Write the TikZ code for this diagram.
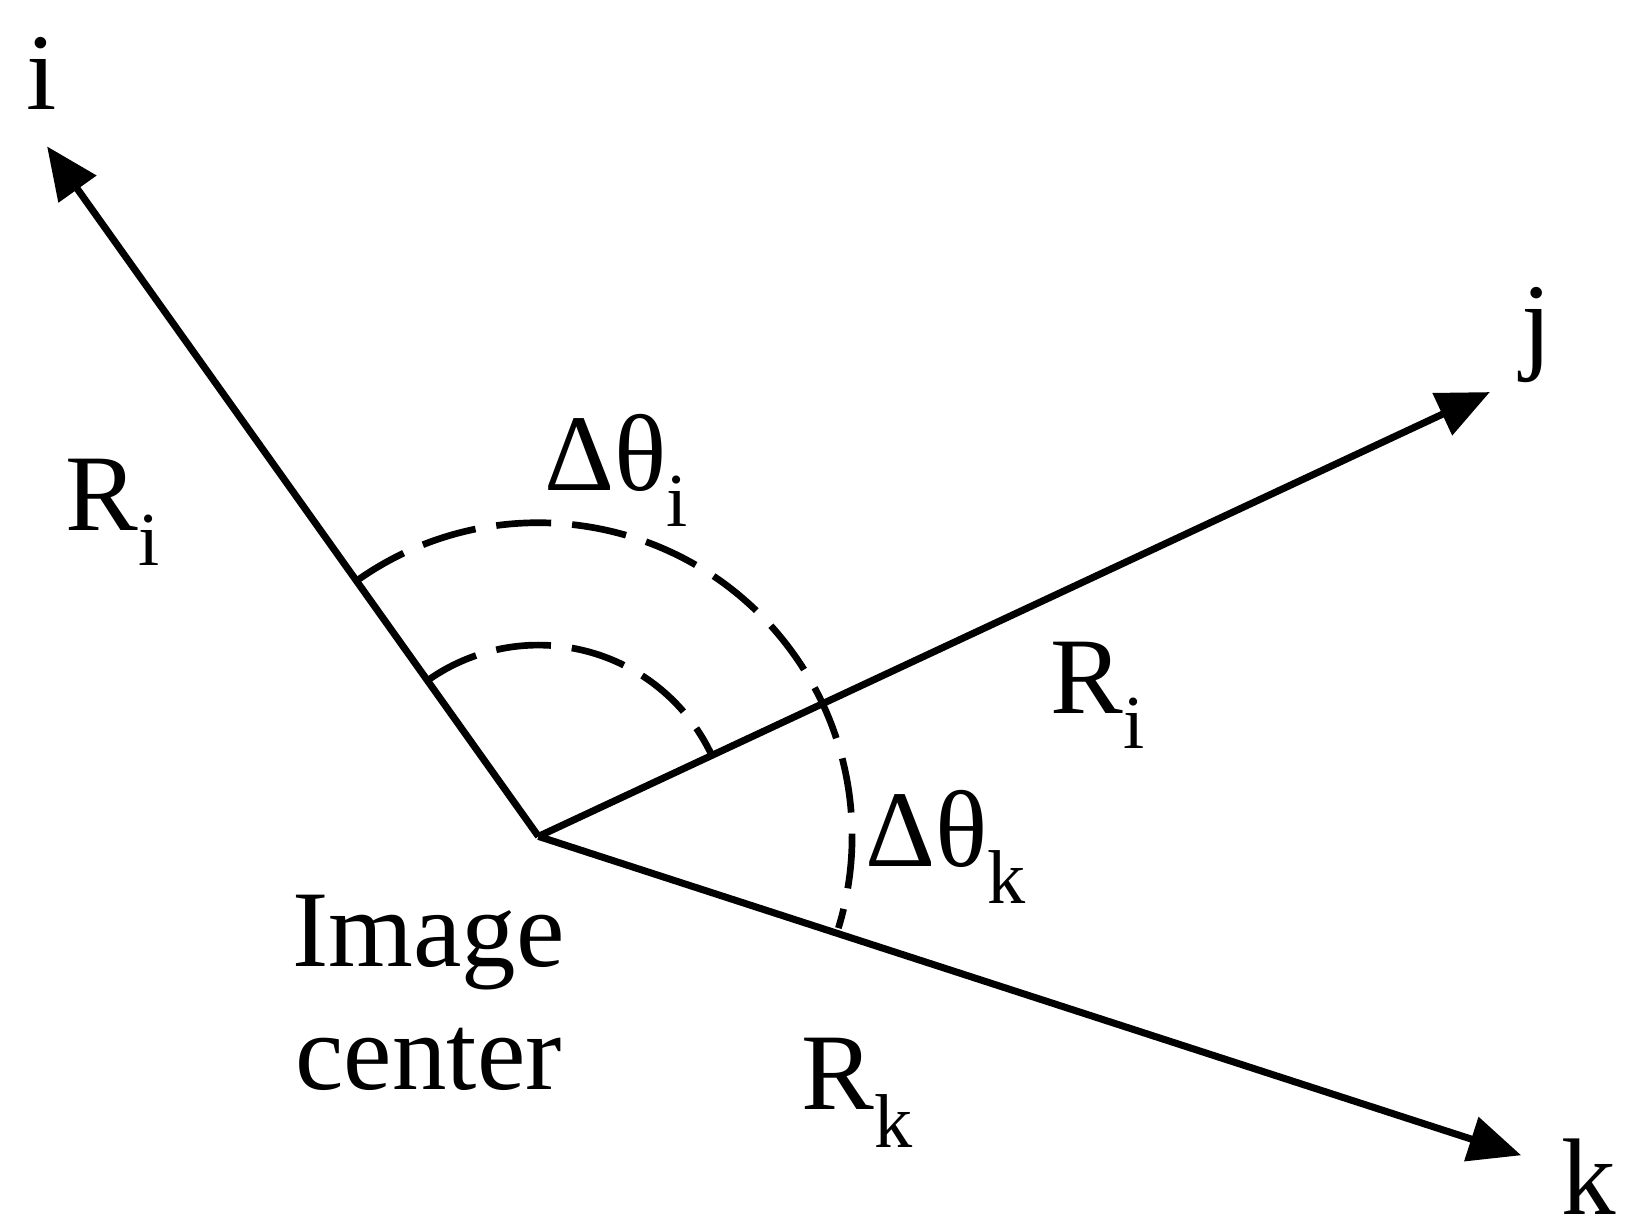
\documentclass[tikz,border=0pt]{standalone}
\usepackage{fontspec}
\setmainfont{Liberation Serif}
\usetikzlibrary{arrows.meta}
\begin{document}
\begin{tikzpicture}[x=0.0209cm,y=0.0209cm,
  axis/.style={line width=4pt,-{Triangle[length=1.05cm,width=0.9cm]}},
  arcline/.style={line width=3.8pt,dash pattern=on 1.1cm off 0.42cm},
  lbl/.style={font=\fontsize{62}{70}\selectfont,inner sep=0pt}]
\useasboundingbox (0,0) rectangle (1560,1173);
\coordinate (c) at (515,373);
\coordinate (ti) at (45,1033);
\coordinate (tj) at (1425,798);
\coordinate (tk) at (1455,68);
\draw[axis] (c) -- (ti);
\draw[axis] (c) -- (tj);
\draw[axis] (c) -- (tk);
\draw[arcline] ([shift={(125.5:300)}]c) arc[start angle=125.5,end angle=-17,radius=300];
\draw[arcline] ([shift={(125.5:183)}]c) arc[start angle=125.5,end angle=25,radius=183];
\node[lbl] (li) at (40,1103) {i};
\node[lbl] (lj) at (1470,853) {j};
\node[lbl] (lk) at (1520,48) {k};
\node[lbl] (ri) at (108,683) {R\textsubscript{i}};
\node[lbl] (rj) at (1050,508) {R\textsubscript{i}};
\node[lbl] (rk) at (820,128) {R\textsubscript{k}};
\node[lbl] (dti) at (590,723) {Δθ\textsubscript{i}};
\node[lbl] (dtk) at (905,363) {Δθ\textsubscript{k}};
\node[lbl,align=center] (ic) at (410,223) {Image\\center};
\end{tikzpicture}
\end{document}
